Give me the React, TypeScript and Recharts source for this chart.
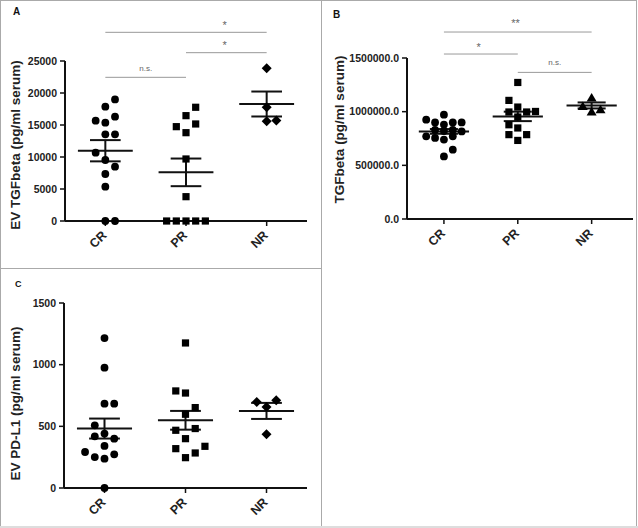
import React from "react";
import {
  ReferenceDot,
  ReferenceLine,
  Scatter,
  ScatterChart,
  XAxis,
  YAxis,
} from "recharts";

const categories = ["CR", "PR", "NR"];

// each point: [spread slot, value]
const tgfCR: [number, number][] = [
  [1, 19000], [0, 17860], [-1, 15670], [0, 15360], [1, 16300], [0, 13540], [1, 13540],
  [-1, 10670], [0, 9530], [1, 8490], [0, 7340], [0, 5360], [0, 0], [1, 0],
];
const tgfPR: [number, number][] = [
  [1, 17770], [0, 16460], [-1, 14740], [1, 15160], [0, 13800], [0, 9690], [0, 3800],
  [-2, 0], [-1, 0], [0, 0], [1, 0], [2, 0],
];
const tgfNR: [number, number][] = [[0, 23860], [0, 17770], [0, 15600], [1, 15700]];
const tgfMean = [10980, 7600, 18280];
const tgfSem = [1660, 2160, 1950];
const tgfTicks = [0, 5000, 10000, 15000, 20000, 25000];

const serumCR: [number, number][] = [
  [-2, 925000], [-1, 900000], [0, 972000], [0, 880000], [1, 900000], [2, 900000],
  [-2, 770000], [-1, 755000], [0, 740000], [1, 770000], [2, 816000],
  [-1, 830000], [0, 820000], [1, 830000], [1, 646000], [0, 583000],
];
const serumPR: [number, number][] = [
  [0, 1272000], [-1, 1105000], [0, 1043000], [-1, 997000], [1, 997000], [2, 1002000],
  [0, 950000], [-1, 878000], [0, 848000], [-1, 786000], [1, 786000], [0, 732000],
];
const serumNR: [number, number][] = [[0, 1127000], [-1, 1049000], [0, 997000], [1, 1018000]];
const serumMean = [816000, 956000, 1058000];
const serumSem = [22000, 44000, 28000];
const serumTicks = [0, 500000, 1000000, 1500000];

const pdl1CR: [number, number][] = [
  [0, 1216], [0, 976], [0, 684], [1, 684], [-1, 508], [0, 441], [-1, 419], [1, 400],
  [0, 341], [-2, 292], [-1, 251], [0, 238], [1, 273], [0, 0],
];
const pdl1PR: [number, number][] = [
  [0, 1176], [-1, 787], [0, 770], [1, 652], [0, 598], [-1, 468], [1, 482], [0, 400],
  [-1, 319], [2, 338], [1, 284], [0, 246],
];
const pdl1NR: [number, number][] = [[-1, 698], [1, 711], [0, 657], [0, 435]];
const pdl1Mean = [482, 549, 625];
const pdl1Sem = [81, 76, 65];
const pdl1Ticks = [0, 500, 1000, 1500];

// significance brackets: from, to, line value, label, label x, label value
type Bracket = { from: number; to: number; y: number; text: string; tx: number; ty: number };
const tgfBrackets: Bracket[] = [
  { from: 1, to: 3, y: 29480, text: "*", tx: 2.48, ty: 30610 },
  { from: 2, to: 3, y: 26300, text: "*", tx: 2.48, ty: 27480 },
  { from: 1, to: 2, y: 22450, text: "n.s.", tx: 1.5, ty: 23875 },
];
const serumBrackets: Bracket[] = [
  { from: 1, to: 3, y: 1742000, text: "**", tx: 1.97, ty: 1828000 },
  { from: 1, to: 2, y: 1537000, text: "*", tx: 1.47, ty: 1602000 },
  { from: 2, to: 3, y: 1366000, text: "n.s.", tx: 2.5, ty: 1461000 },
];

const SPREAD = 0.12;
const FONT = "'Liberation Sans', Arial, sans-serif";

const toPoints = (pts: [number, number][], group: number) =>
  pts.map(([slot, v]) => ({ x: group + slot * SPREAD, y: v }));

// marker shapes
const Circle = (p: any) => <circle cx={p.cx} cy={p.cy} r={3.9} fill="#000" />;
const Square = (p: any) => <rect x={p.cx - 3.6} y={p.cy - 3.6} width={7.2} height={7.2} fill="#000" />;
const Diamond = (p: any) => (
  <path d={`M${p.cx},${p.cy - 5}L${p.cx + 5},${p.cy}L${p.cx},${p.cy + 5}L${p.cx - 5},${p.cy}Z`} fill="#000" />
);
const Triangle = (p: any) => (
  <path d={`M${p.cx},${p.cy - 5}L${p.cx + 5},${p.cy + 3.5}L${p.cx - 5},${p.cy + 3.5}Z`} fill="#000" />
);

const CatTick = (props: any) => {
  const { x, y, payload } = props;
  return (
    <g transform={`translate(${x + 2},${y + 8}) rotate(-45)`}>
      <text textAnchor="end" fontFamily={FONT} fontWeight="bold" fontSize={12.5} fill="#222">
        {categories[payload.value - 1]}
      </text>
    </g>
  );
};

const sigLabel = (text: string) => (lp: any) => {
  const vb = lp.viewBox;
  const small = text === "n.s.";
  return (
    <text
      x={vb.x + vb.width / 2}
      y={vb.y + vb.height / 2}
      textAnchor="middle"
      dominantBaseline="central"
      fontFamily={FONT}
      fontSize={small ? 8 : 11}
      fill="#666"
    >
      {text}
    </text>
  );
};

type PanelProps = {
  left: number;
  top: number;
  width: number;
  height: number;
  margin: { top: number; right: number; bottom: number; left: number };
  yWidth: number;
  xHeight: number;
  xMax: number;
  ticks: number[];
  tickFormat: (v: number) => string;
  title: string;
  titleX: number;
  titleDy: number;
  groups: [number, number][][];
  shapes: any[];
  means: number[];
  sems: number[];
  brackets: Bracket[];
};

const Panel = (p: PanelProps) => {
  const yMax = p.ticks[p.ticks.length - 1];
  const titleContent = (lp: any) => {
    const vb = lp.viewBox;
    const cy = vb.y + vb.height / 2 + p.titleDy;
    return (
      <text
        x={p.titleX}
        y={cy}
        transform={`rotate(-90, ${p.titleX}, ${cy})`}
        textAnchor="middle"
        dominantBaseline="central"
        fontFamily={FONT}
        fontWeight="bold"
        fontSize={13.5}
        fill="#222"
      >
        {p.title}
      </text>
    );
  };
  return (
    <div style={{ position: "absolute", left: p.left, top: p.top }}>
      <ScatterChart width={p.width} height={p.height} margin={p.margin}>
        <XAxis
          type="number"
          dataKey="x"
          domain={[0.5, p.xMax]}
          ticks={[1, 2, 3]}
          height={p.xHeight}
          tick={<CatTick />}
          tickSize={5}
          axisLine={{ stroke: "#111", strokeWidth: 2 }}
          tickLine={{ stroke: "#111", strokeWidth: 1.5 }}
        />
        <YAxis
          type="number"
          dataKey="y"
          domain={[0, yMax]}
          ticks={p.ticks}
          width={p.yWidth}
          tickSize={5}
          tickMargin={3}
          tickFormatter={p.tickFormat}
          tick={{ fontFamily: FONT, fontWeight: "bold", fontSize: 10.5, fill: "#222" }}
          axisLine={{ stroke: "#111", strokeWidth: 2 }}
          tickLine={{ stroke: "#111", strokeWidth: 1.5 }}
          label={{ content: titleContent }}
        />
        {p.groups.map((g, i) => (
          <Scatter
            key={i}
            data={toPoints(g, i + 1)}
            shape={p.shapes[i]}
            fill="#000"
            isAnimationActive={false}
          />
        ))}
        {p.means.map((m, i) => (
          <ReferenceLine
            key={`m${i}`}
            segment={[{ x: i + 1 - 0.34, y: m }, { x: i + 1 + 0.34, y: m }]}
            stroke="#111"
            strokeWidth={2}
            ifOverflow="visible"
          />
        ))}
        {p.means.map((m, i) => (
          <ReferenceLine
            key={`v${i}`}
            segment={[{ x: i + 1, y: m - p.sems[i] }, { x: i + 1, y: m + p.sems[i] }]}
            stroke="#111"
            strokeWidth={2}
            ifOverflow="visible"
          />
        ))}
        {p.means.map((m, i) => (
          <ReferenceLine
            key={`u${i}`}
            segment={[{ x: i + 1 - 0.19, y: m + p.sems[i] }, { x: i + 1 + 0.19, y: m + p.sems[i] }]}
            stroke="#111"
            strokeWidth={2}
            ifOverflow="visible"
          />
        ))}
        {p.means.map((m, i) => (
          <ReferenceLine
            key={`l${i}`}
            segment={[{ x: i + 1 - 0.19, y: m - p.sems[i] }, { x: i + 1 + 0.19, y: m - p.sems[i] }]}
            stroke="#111"
            strokeWidth={2}
            ifOverflow="visible"
          />
        ))}
        {p.brackets.map((b, i) => (
          <ReferenceLine
            key={`b${i}`}
            segment={[{ x: b.from, y: b.y }, { x: b.to, y: b.y }]}
            stroke="#999"
            strokeWidth={1}
            ifOverflow="visible"
          />
        ))}
        {p.brackets.map((b, i) => (
          <ReferenceDot
            key={`t${i}`}
            x={b.tx}
            y={b.ty}
            r={0}
            fill="none"
            stroke="none"
            ifOverflow="visible"
            label={{ content: sigLabel(b.text) }}
          />
        ))}
      </ScatterChart>
    </div>
  );
};

export default function App() {
  const border = "#aaa";
  return (
    <div
      style={{
        position: "absolute",
        left: 0,
        top: 0,
        width: 638,
        height: 528,
        background: "#fff",
        overflow: "hidden",
      }}
    >
      <svg width={638} height={528} style={{ position: "absolute", left: 0, top: 0 }}>
        <rect x={0} y={526} width={638} height={2} fill="#ddd" />
        <line x1={0.5} y1={0} x2={0.5} y2={526} stroke={border} />
        <line x1={0} y1={0.5} x2={637} y2={0.5} stroke={border} />
        <line x1={636.5} y1={0} x2={636.5} y2={526} stroke={border} />
        <line x1={321.5} y1={0} x2={321.5} y2={526} stroke={border} />
        <line x1={0} y1={268.5} x2={321} y2={268.5} stroke={border} />
        <text x={13} y={15} fontFamily={FONT} fontWeight="bold" fontSize={10} fill="#111">A</text>
        <text x={333} y={18.3} fontFamily={FONT} fontWeight="bold" fontSize={10} fill="#111">B</text>
        <text x={15} y={286.7} fontFamily={FONT} fontWeight="bold" fontSize={9} fill="#111">C</text>
      </svg>
      <Panel
        left={0}
        top={0}
        width={320}
        height={268}
        margin={{ top: 61, right: 13, bottom: 0, left: 0 }}
        yWidth={65}
        xHeight={47}
        xMax={3.5}
        ticks={tgfTicks}
        tickFormat={(v) => String(v)}
        title="EV TGFbeta (pg/ml serum)"
        titleX={15}
        titleDy={4}
        groups={[tgfCR, tgfPR, tgfNR]}
        shapes={[Circle, Square, Diamond]}
        means={tgfMean}
        sems={tgfSem}
        brackets={tgfBrackets}
      />
      <Panel
        left={321}
        top={0}
        width={316}
        height={268}
        margin={{ top: 58, right: 4, bottom: 0, left: 0 }}
        yWidth={86}
        xHeight={49}
        xMax={3.56}
        ticks={serumTicks}
        tickFormat={(v) => v.toFixed(1)}
        title="TGFbeta (pg/ml serum)"
        titleX={18}
        titleDy={-9}
        groups={[serumCR, serumPR, serumNR]}
        shapes={[Circle, Square, Triangle]}
        means={serumMean}
        sems={serumSem}
        brackets={serumBrackets}
      />
      <Panel
        left={0}
        top={269}
        width={320}
        height={259}
        margin={{ top: 34, right: 13, bottom: 0, left: 0 }}
        yWidth={64}
        xHeight={40}
        xMax={3.5}
        ticks={pdl1Ticks}
        tickFormat={(v) => String(v)}
        title="EV PD-L1 (pg/ml serum)"
        titleX={15}
        titleDy={8}
        groups={[pdl1CR, pdl1PR, pdl1NR]}
        shapes={[Circle, Square, Diamond]}
        means={pdl1Mean}
        sems={pdl1Sem}
        brackets={[]}
      />
    </div>
  );
}
